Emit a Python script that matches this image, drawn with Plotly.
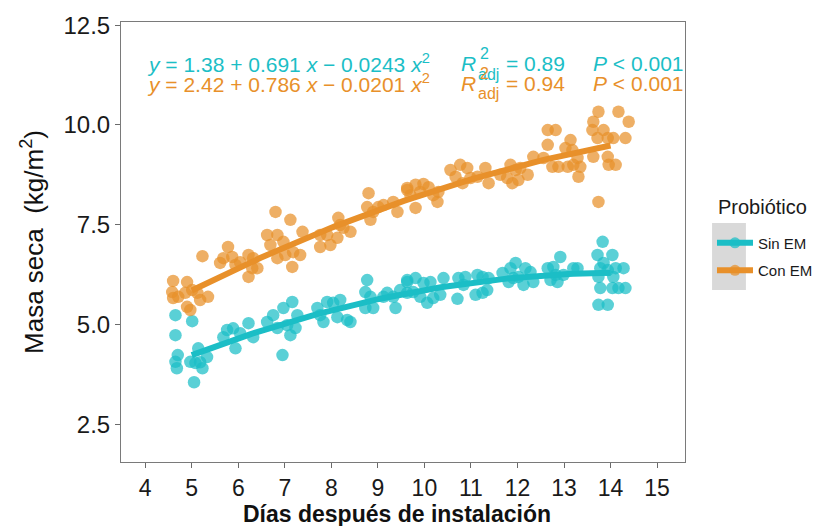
import numpy as np
import plotly.graph_objects as go

# ---------------- data ----------------
sin_em_x = [4.65, 4.65, 5.01, 4.65, 4.70, 4.68, 5.05, 5.14, 5.18, 5.33, 4.97, 5.08, 5.23,
            5.76, 5.89, 5.68, 5.94, 6.22, 6.32, 6.04,
            6.62, 6.75, 6.84, 6.97, 7.16, 7.05, 7.12, 7.23, 7.27, 6.95,
            7.70, 7.76, 7.83, 7.91, 8.04, 8.13, 8.19, 8.34, 8.41,
            8.77, 8.73, 8.84, 8.90, 8.73, 9.12, 9.20, 9.38, 9.33,
            9.63, 9.63,
            9.48, 9.63, 9.81, 9.76, 9.98, 10.13, 10.06, 10.19, 10.34, 9.91,
            10.41, 10.71,
            10.73, 10.88, 10.84, 11.14, 11.25, 11.10, 11.25, 11.35, 11.38,
            11.68, 11.85, 11.96, 11.81, 12.02, 12.17, 12.13, 12.28, 12.34, 11.91,
            12.65, 12.77, 12.92, 12.86, 12.71, 12.99, 12.82,
            13.29, 13.20,
            13.83, 13.72, 14.04, 13.85, 13.78, 13.94, 13.74, 14.06, 14.28, 14.11,
            13.78, 14.04, 14.17, 14.32, 13.74, 13.94]
sin_em_y = [5.23, 4.73, 5.08, 4.06, 4.23, 3.90, 3.55, 4.40, 4.05, 4.18, 4.06, 4.03, 3.90,
            4.86, 4.90, 4.68, 4.40, 5.03, 4.68, 4.78,
            5.06, 5.23, 4.91, 5.41, 5.56, 4.98, 4.73, 4.91, 5.23, 4.23,
            5.41, 5.23, 5.06, 5.56, 5.54, 5.18, 5.61, 5.11, 5.06,
            6.11, 5.81, 5.69, 5.41, 5.41, 5.69, 5.79, 5.41, 5.69,
            6.06, 5.79,
            5.86, 6.11, 6.16, 5.81, 6.04, 6.06, 5.54, 5.66, 5.74, 5.69,
            6.16, 5.64,
            6.16, 6.19, 5.99, 6.24, 6.19, 5.74, 5.79, 5.86, 6.16,
            6.29, 6.41, 6.54, 6.06, 6.19, 6.41, 5.99, 6.31, 6.06, 6.16,
            6.41, 6.44, 6.69, 6.06, 6.11, 6.24, 6.24,
            6.41, 6.41,
            7.07, 6.74, 6.74, 6.54, 6.41, 6.36, 6.19, 6.19, 6.41, 6.41,
            5.91, 5.91, 5.91, 5.91, 5.49, 5.49]

con_em_x = [4.60, 4.90, 4.58, 4.71, 4.86, 5.01, 5.12, 5.35, 4.90, 4.97, 4.60, 5.18,
            5.23,
            5.78, 5.68, 5.87, 6.04, 5.61, 6.22, 6.32, 6.30, 6.22, 6.41, 5.94,
            6.80, 7.12, 6.62, 6.84, 6.69, 6.97, 7.01, 6.84, 7.18, 7.33, 7.16, 7.38,
            7.76, 7.98, 8.13, 8.19, 8.15, 8.26, 8.41, 7.91, 7.76,
            8.80, 8.77, 8.84, 9.01, 9.12, 9.33, 9.42, 8.90,
            9.63, 9.70,
            9.63, 9.81, 9.98, 10.09, 9.91, 9.81, 10.28, 10.19, 10.30,
            10.56, 10.77, 10.67, 10.92, 10.99, 10.82, 11.31, 11.38, 11.14,
            11.85, 11.96, 11.63, 11.89, 12.02, 12.22, 12.06, 11.78,
            12.34, 12.65, 12.82, 12.65, 12.56, 12.75, 12.88, 13.08, 13.14, 13.03, 13.18, 13.29, 13.35, 13.31, 13.20,
            13.74, 13.63, 13.61, 13.85, 14.17, 14.39, 13.72, 13.94, 14.06, 14.32, 13.63, 13.94, 13.96, 14.11, 13.74]
con_em_y = [6.09, 6.06, 5.81, 5.69, 5.79, 5.86, 5.79, 5.69, 5.44, 5.36, 5.66, 5.61,
            6.71,
            6.94, 6.66, 6.69, 6.56, 6.54, 6.74, 6.66, 6.41, 6.19, 6.41, 6.49,
            7.82, 7.62, 7.24, 7.24, 6.99, 7.07, 6.74, 6.66, 6.81, 6.74, 6.44, 7.32,
            6.94, 6.99, 7.17, 7.49, 7.67, 7.42, 7.32, 7.24, 7.24,
            8.29, 7.94, 7.62, 7.94, 7.99, 8.07, 7.82, 7.82,
            8.42, 8.24,
            8.37, 8.50, 8.52, 8.44, 8.32, 7.92, 8.07, 8.24, 8.32,
            8.87, 9.00, 8.70, 8.92, 8.67, 8.54, 8.92, 8.54, 8.70,
            9.00, 8.87, 8.75, 8.54, 8.62, 8.75, 8.92, 8.67,
            9.20, 9.87, 9.87, 9.50, 9.17, 8.95, 8.95, 8.95, 9.62, 9.42, 9.37, 9.17, 8.95, 8.70, 9.00,
            10.33, 10.08, 9.87, 9.87, 10.33, 10.08, 9.67, 9.67, 9.67, 9.67, 9.20, 9.20, 9.00, 9.00, 8.07]

# fitted quadratic models (coefficients as printed on the chart: b0, b1, b2)
sin_em_coef = [1.38, 0.691, -0.0243]
con_em_coef = [2.42, 0.786, -0.0201]
fit_days = [5, 14]  # range of the fitted curves (days)

group_names = ["Sin EM", "Con EM"]
r2_adj = ["0.89", "0.94"]
p_text = ["0.001", "0.001"]
x_ticks = [4, 5, 6, 7, 8, 9, 10, 11, 12, 13, 14, 15]
y_ticks = [2.5, 5.0, 7.5, 10.0, 12.5]

CYAN = "#1BBEC6"
ORANGE = "#E8902A"
FONT = "Liberation Sans, Arial, sans-serif"

fig = go.Figure()


def curve(coef):
    xs = np.linspace(fit_days[0], fit_days[1], 80)
    ys = coef[0] + coef[1] * xs + coef[2] * xs ** 2
    return xs, ys


groups = [(group_names[0], sin_em_x, sin_em_y, sin_em_coef, CYAN),
          (group_names[1], con_em_x, con_em_y, con_em_coef, ORANGE)]

for name, xs, ys, coef, col in groups:
    fig.add_trace(go.Scatter(x=xs, y=ys, mode="markers", showlegend=False,
                             marker=dict(size=12.5, color=col, opacity=0.72, line=dict(width=0))))
for name, xs, ys, coef, col in groups:
    cx, cy = curve(coef)
    fig.add_trace(go.Scatter(x=cx, y=cy, mode="lines", showlegend=False,
                             line=dict(color=col, width=6)))
# legend entries
for name, xs, ys, coef, col in groups:
    fig.add_trace(go.Scatter(x=[None], y=[None], mode="lines+markers", name=name,
                             legendgroup=name,
                             line=dict(color=col, width=6),
                             marker=dict(size=11, color=col, opacity=0.72)))

# equations
eq_font = 21
sub_font = 16
rows = [(11.54, 11.79, 11.26, CYAN, sin_em_coef, r2_adj[0], p_text[0]),
        (11.04, 11.29, 10.78, ORANGE, con_em_coef, r2_adj[1], p_text[1])]
for yv, ysup, ysub, col, coef, r2, pv in rows:
    f = dict(family=FONT, size=eq_font, color=col)
    fs = dict(family=FONT, size=sub_font, color=col)
    a, b, c = f"{coef[0]:.2f}", f"{coef[1]:.3f}", f"{abs(coef[2]):.4f}"
    fig.add_annotation(x=4.0, y=yv, xref="x", yref="y", xanchor="left", yanchor="middle",
                       text=f"<i>y</i> = {a} + {b} <i>x</i> − {c} <i>x</i><sup>2</sup>",
                       showarrow=False, font=f)
    fig.add_annotation(x=10.75, y=yv, xref="x", yref="y", xanchor="left", yanchor="middle",
                       text="<i>R</i>", showarrow=False, font=f)
    fig.add_annotation(x=11.15, y=ysup, xref="x", yref="y", xanchor="left", yanchor="middle",
                       text="2", showarrow=False, font=fs)
    fig.add_annotation(x=11.11, y=ysub, xref="x", yref="y", xanchor="left", yanchor="middle",
                       text="adj", showarrow=False, font=fs)
    fig.add_annotation(x=11.70, y=yv, xref="x", yref="y", xanchor="left", yanchor="middle",
                       text=f"= {r2}", showarrow=False, font=f)
    fig.add_annotation(x=13.59, y=yv, xref="x", yref="y", xanchor="left", yanchor="middle",
                       text=f"<i>P</i> < {pv}", showarrow=False, font=f)

# legend title
fig.add_annotation(x=1.055, y=0.580, xref="paper", yref="paper", xanchor="left", yanchor="middle",
                   text="Probiótico", showarrow=False,
                   font=dict(family=FONT, size=20, color="#1A1A1A"))

# x axis title
fig.add_annotation(x=0.49, y=-0.119, xref="paper", yref="paper", xanchor="center", yanchor="middle",
                   text="<b>Días después de instalación</b>", showarrow=False,
                   font=dict(family=FONT, size=23, color="#111"))

# grey legend key background
fig.add_shape(type="rect", xref="paper", yref="paper", x0=1.048, x1=1.108, y0=0.391, y1=0.543,
              fillcolor="#D9D9D9", line=dict(width=0), layer="below")

axis_common = dict(showline=True, linecolor="#7A7A7A", linewidth=1, mirror=True,
                   showgrid=False, zeroline=False, ticks="outside", ticklen=5,
                   tickcolor="#6A6A6A", tickwidth=1, automargin=False)

# the page adds an 8px body margin, so margins are offset to place the panel
fig.update_layout(
    width=821, height=526,
    margin=dict(l=113, r=143, t=14, b=72),
    paper_bgcolor="white", plot_bgcolor="white",
    font=dict(family=FONT, color="#1A1A1A"),
    xaxis=dict(range=[3.48, 15.6], tickmode="array", tickvals=x_ticks,
               ticktext=[str(t) for t in x_ticks],
               tickfont=dict(family=FONT, size=23, color="#1A1A1A"),
               **axis_common),
    yaxis=dict(range=[1.55, 12.58], tickmode="array", tickvals=y_ticks,
               ticktext=[f"{t:.1f}" for t in y_ticks],
               tickfont=dict(family=FONT, size=24, color="#1A1A1A"),
               title=dict(text="Masa seca&nbsp; (kg/m<sup>2</sup>)",
                          font=dict(family=FONT, size=26, color="#111"), standoff=12),
               **axis_common),
    legend=dict(x=1.046, y=0.535, xanchor="left", yanchor="top",
                font=dict(family=FONT, size=15, color="#1A1A1A"),
                bgcolor="rgba(0,0,0,0)", tracegroupgap=5, itemwidth=36),
)

fig.write_html("out.html")
